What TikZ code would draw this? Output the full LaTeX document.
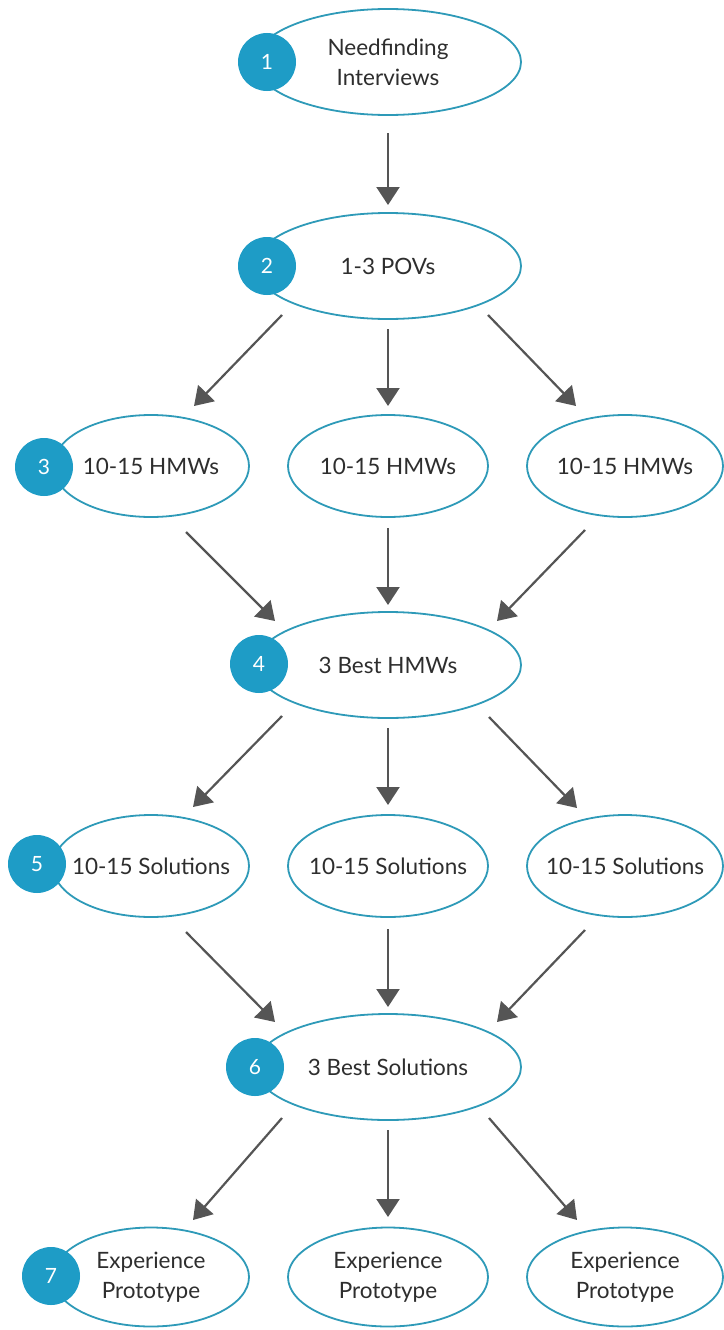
\documentclass[tikz,border=0pt]{standalone}
\usepackage{fontspec}
\setmainfont{Lato}
\usetikzlibrary{shapes.geometric,arrows.meta,calc}
\definecolor{ringcol}{HTML}{2E9AB8}
\definecolor{dotcol}{HTML}{1E9CC6}
\definecolor{arrcol}{HTML}{555555}
\definecolor{txtcol}{HTML}{2E2E2E}
\begin{document}
\begin{tikzpicture}[x=1pt,y=-1pt,
  big/.style={ellipse,draw=ringcol,line width=1.8pt,fill=white,minimum width=266pt,minimum height=106pt,inner xsep=-40pt,inner ysep=0pt,text=txtcol,font=\fontsize{22.5}{30}\selectfont,align=center},
  small/.style={big,minimum width=196pt,minimum height=102pt},
  last/.style={big,minimum width=196pt,minimum height=99pt},
  num/.style={circle,fill=dotcol,minimum size=58pt,inner sep=0pt,text=white,font=\fontsize{21}{24}\selectfont},
  arr/.style={draw=arrcol,line width=2.2pt,-{Triangle[width=23pt,length=18pt]}}]
\useasboundingbox (0,0) rectangle (723,1330);
% nodes
\node[big] (n1) at (388,62) {Needfinding\\Interviews};
\node[big] (n2) at (388,266) {1-3 POVs};
\node[small] (l3) at (151,466) {10-15 HMWs};
\node[small,minimum width=200pt] (m3) at (388,466) {10-15 HMWs};
\node[small] (r3) at (625,466) {10-15 HMWs};
\node[big] (n4) at (388,665) {3 Best HMWs};
\node[small] (l5) at (151,866) {10-15 Solutions};
\node[small,minimum width=200pt] (m5) at (388,866) {10-15 Solutions};
\node[small] (r5) at (625,866) {10-15 Solutions};
\node[big] (n6) at (388,1067) {3 Best Solutions};
\node[last] (l7) at (151,1277) {Experience\\Prototype};
\node[last,minimum width=200pt] (m7) at (388,1277) {Experience\\Prototype};
\node[last] (r7) at (625,1277) {Experience\\Prototype};
% number badges
\node[num] (c1) at (267,62) {1};
\node[num] (c2) at (267,266) {2};
\node[num] (c3) at (44,467) {3};
\node[num] (c4) at (259,664) {4};
\node[num] (c5) at (37,864) {5};
\node[num] (c6) at (255,1067) {6};
\node[num] (c7) at (51,1276) {7};
% connectors
\draw[arr] ($(n1)+(0,71)$) -- ($(n2)+(0,-61)$);
\draw[arr] ($(n2)+(-106,49)$) -- ($(l3)+(43,-60)$);
\draw[arr] ($(n2)+(0,63)$) -- ($(m3)+(0,-60)$);
\draw[arr] ($(n2)+(100,49)$) -- ($(r3)+(-49,-60)$);
\draw[arr] ($(l3)+(35,66)$) -- ($(n4)+(-113,-44)$);
\draw[arr] ($(m3)+(0,62)$) -- ($(n4)+(0,-60)$);
\draw[arr] ($(r3)+(-40,64)$) -- ($(n4)+(109,-44)$);
\draw[arr] ($(n4)+(-106,51)$) -- ($(l5)+(42,-59)$);
\draw[arr] ($(n4)+(0,63)$) -- ($(m5)+(0,-61)$);
\draw[arr] ($(n4)+(101,52)$) -- ($(r5)+(-48,-58)$);
\draw[arr] ($(l5)+(35,66)$) -- ($(n6)+(-113,-45)$);
\draw[arr] ($(m5)+(0,63)$) -- ($(n6)+(0,-60)$);
\draw[arr] ($(r5)+(-40,64)$) -- ($(n6)+(109,-45)$);
\draw[arr] ($(n6)+(-106,51)$) -- ($(l7)+(42,-57)$);
\draw[arr] ($(n6)+(0,63)$) -- ($(m7)+(0,-60)$);
\draw[arr] ($(n6)+(101,51)$) -- ($(r7)+(-48,-57)$);
\end{tikzpicture}
\end{document}
